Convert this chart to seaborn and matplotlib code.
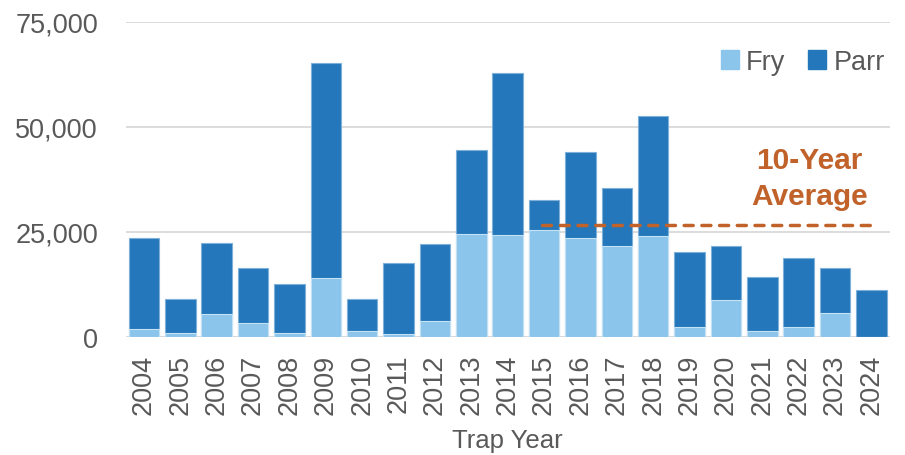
import matplotlib
matplotlib.use("Agg")
import matplotlib.pyplot as plt
import seaborn as sns
import pandas as pd
import numpy as np
from matplotlib import font_manager as fm
from matplotlib.patches import Patch

years = [str(y) for y in range(2004, 2025)]
fry = [1900, 1000, 5500, 3300, 1000, 14000, 1300, 700, 3800, 24600, 24200,
       25400, 23500, 21600, 24100, 2400, 8700, 1400, 2300, 5700, 0]
parr = [21600, 8000, 16800, 13000, 11500, 51100, 7700, 16900, 18200, 19800, 38500,
        7100, 20500, 13900, 28500, 17700, 12900, 12900, 16500, 10700, 11100]
avg_value = 26700
avg_label = "10-Year\nAverage"
series_names = ["Fry", "Parr"]
y_ticks = [0, 25000, 50000, 75000]

sns.set_theme(style="white")
names = {f.name for f in fm.fontManager.ttflist}
fam = ["Liberation Sans Narrow", "Liberation Sans", "DejaVu Sans"]
fam = [f for f in fam if f in names] or ["DejaVu Sans"]
plt.rcParams["font.family"] = fam

FRY_C = "#8BC5EB"
PARR_C = "#2377BA"
TXT = "#595959"
ORANGE = "#C0622A"

df = pd.DataFrame({"year": years, "fry": fry, "parr": parr})
df["total"] = df["fry"] + df["parr"]

fig = plt.figure(figsize=(9.05, 4.56), dpi=100)
ax = fig.add_axes([0.139, 0.259, 0.844, 0.691])

sns.barplot(data=df, x="year", y="total", color=PARR_C, saturation=1, width=0.84,
            edgecolor="#7FB0DA", linewidth=0.8, ax=ax)
sns.barplot(data=df, x="year", y="fry", color=FRY_C, saturation=1, width=0.84,
            edgecolor="#C5E2F5", linewidth=0.8, ax=ax)

ax.set_ylim(0, 75000)
ax.set_xlim(-0.5, len(years) - 0.5)
ax.set_yticks(y_ticks)
ax.set_yticklabels([f"{v:,}" for v in y_ticks])
ax.yaxis.grid(True, color="#D9D9D9", linewidth=1.3)
ax.set_axisbelow(True)
for s in ax.spines.values():
    s.set_visible(False)
ax.axhline(0, color="#D9D9D9", linewidth=1.3, zorder=0)
ax.tick_params(axis="y", labelsize=19.5, colors=TXT, length=0, pad=20)
ax.tick_params(axis="x", labelsize=19.5, colors=TXT, length=0, pad=12, rotation=90)
ax.set_xlabel("Trap Year", fontsize=18.5, color=TXT, labelpad=10)
ax.set_ylabel("")

ax.hlines(avg_value, 10.95, 20.0, colors=ORANGE, linestyles=(0, (2.6, 2.5)),
          linewidth=2.5, capstyle="round", zorder=5)
ax.text(18.3, 37900, avg_label, ha="center", va="center", fontsize=21.5,
        fontweight="bold", color=ORANGE, linespacing=1.35)

handles = [Patch(facecolor=FRY_C, edgecolor=FRY_C), Patch(facecolor=PARR_C, edgecolor=PARR_C)]
leg = ax.legend(handles, series_names, loc="center right", bbox_to_anchor=(0.9935, 0.872),
                ncol=2, frameon=False, fontsize=19.5, handlelength=0.67, handleheight=0.67,
                handletextpad=0.26, columnspacing=0.85, labelcolor=TXT,
                borderaxespad=0, borderpad=0)

fig.savefig("out.png", dpi=100)
